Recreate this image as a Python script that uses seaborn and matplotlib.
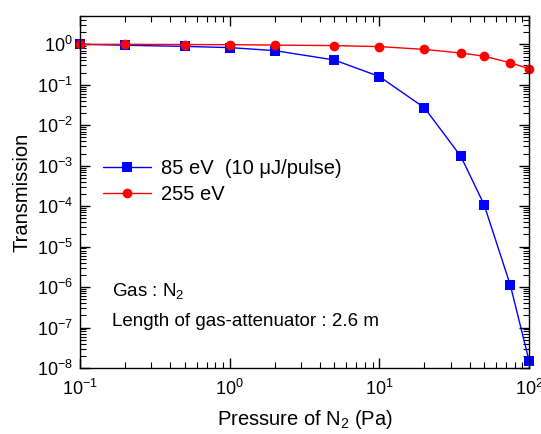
import numpy as np
import pandas as pd
import seaborn as sns
from matplotlib import pyplot as plt
from matplotlib.ticker import LogLocator, NullFormatter

pressure = [0.1, 0.2, 0.5, 1, 2, 5, 10, 20, 35, 50, 75, 100]
trans_85 = [1.0, 0.95, 0.89, 0.83, 0.70, 0.41, 0.16, 0.027, 1.7e-3, 1.1e-4, 1.1e-6, 1.5e-8]
trans_255 = [1.0, 1.0, 0.99, 0.98, 0.96, 0.93, 0.88, 0.75, 0.61, 0.51, 0.35, 0.25]
labels = ["85 eV  (10 \u03bcJ/pulse)", "255 eV"]

df = pd.concat([
    pd.DataFrame({"pressure": pressure, "trans": trans_85, "series": labels[0]}),
    pd.DataFrame({"pressure": pressure, "trans": trans_255, "series": labels[1]}),
])

sns.set_style("ticks")
plt.rcParams["font.family"] = ["Liberation Sans", "DejaVu Sans"]
plt.rcParams["mathtext.fontset"] = "custom"
plt.rcParams["mathtext.rm"] = "Liberation Sans"
plt.rcParams["mathtext.it"] = "Liberation Sans:italic"
for key in ["text.color", "axes.labelcolor", "xtick.color", "ytick.color", "axes.edgecolor"]:
    plt.rcParams[key] = "black"

fig = plt.figure(figsize=(5.41, 4.34), dpi=100)
ax = fig.add_axes([0.148, 0.152, 0.83, 0.811])

sns.lineplot(
    data=df, x="pressure", y="trans", hue="series", style="series",
    palette=["#0000ff", "#ff0000"], markers=["s", "o"], dashes=False,
    markersize=7, markeredgewidth=0, linewidth=1, ax=ax, clip_on=False,
)

ax.set_xscale("log")
ax.set_yscale("log")
ax.set_xlim(0.1, 100)
ax.set_ylim(1e-8, 5)

ax.xaxis.set_major_locator(LogLocator(base=10, numticks=10))
ax.xaxis.set_minor_locator(LogLocator(base=10, subs=np.arange(2, 10), numticks=20))
ax.yaxis.set_major_locator(LogLocator(base=10, numticks=20))
ax.yaxis.set_minor_locator(LogLocator(base=10, subs=np.arange(2, 10), numticks=40))
ax.xaxis.set_minor_formatter(NullFormatter())
ax.yaxis.set_minor_formatter(NullFormatter())
ax.tick_params(which="both", direction="in", top=True, right=True, labelsize=13)
ax.tick_params(which="major", length=7, width=1)
ax.tick_params(which="minor", length=4, width=0.8)
ax.tick_params(axis="x", which="major", pad=8)
ax.tick_params(axis="y", which="major", pad=5)
for s in ax.spines.values():
    s.set_linewidth(1)

ax.set_xlabel("Pressure of N$_2$ (Pa)", fontsize=14.5, labelpad=6)
ax.set_ylabel("Transmission", fontsize=14.5)

ax.legend(loc="upper left", bbox_to_anchor=(0.01, 0.645), frameon=False,
          fontsize=14.5, handlelength=2.4, handletextpad=0.5, labelspacing=0.35,
          title=None)

ax.text(0.07, 0.205, "Gas : N$_2$", transform=ax.transAxes, fontsize=13.5)
ax.text(0.07, 0.12, "Length of gas-attenuator : 2.6 m", transform=ax.transAxes, fontsize=13.5)

fig.savefig("out.png", dpi=100)
